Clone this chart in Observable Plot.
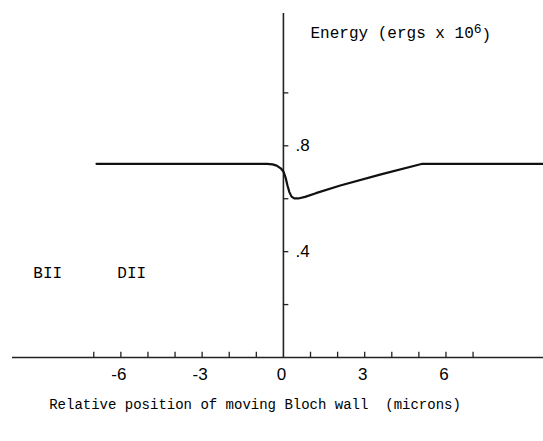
<!DOCTYPE html>
<html>
<head>
<meta charset="utf-8">
<script src="https://cdn.jsdelivr.net/npm/d3@7"></script>
<script src="https://cdn.jsdelivr.net/npm/@observablehq/plot@0.6"></script>
<style>
  html, body { margin: 0; padding: 0; background: #fff; }
  #chart svg { display: block; }
</style>
</head>
<body>
<div id="chart"></div>
<script>
// Curve: energy vs relative position of moving Bloch wall
const positions = [-6.9, -3, -0.6, -0.4, -0.25, -0.1, 0, 0.08, 0.15, 0.22, 0.3, 0.4, 0.55, 0.8, 1.2, 2.1, 3.6, 5.13, 7, 9.6];
const energies  = [0.732, 0.732, 0.732, 0.73, 0.725, 0.715, 0.703, 0.68, 0.65, 0.625, 0.608, 0.601, 0.601, 0.607, 0.621, 0.65, 0.692, 0.732, 0.732, 0.732];

// Axis ticks and labels
const xTicks = [-7, -6, -5, -4, -3, -2, -1, 1, 2, 3, 4, 5, 6, 7];
const xLabels = [-6, -3, 0, 3, 6];
const yTicks = [0.2, 0.4, 0.6, 0.8, 1.0];
const yLabels = [0.4, 0.8];

// Region labels
const regionNames = ["BII", "DII"];
const regionPos = [-8.7, -5.6];

const yTitle = "Energy (ergs x 10";
const yTitleExp = "6";
const xTitle = "Relative position of moving Bloch wall  (microns)";

const data = positions.map((p, i) => ({x: p, y: energies[i]}));
const mono = "'Liberation Mono', 'DejaVu Sans Mono', monospace";
const sans = "'Liberation Sans', Arial, sans-serif";

const plot = Plot.plot({
  width: 543,
  height: 441,
  marginLeft: 12,
  marginRight: 0,
  marginTop: 13,
  marginBottom: 84,
  x: {domain: [-10, 9.6], axis: null},
  y: {domain: [0, 1.3], axis: null},
  style: {background: "#fff", color: "#000"},
  marks: [
    Plot.ruleY([0], {stroke: "#222", strokeWidth: 1.6}),
    Plot.ruleX([0], {y1: 0, y2: 1.3, stroke: "#222", strokeWidth: 1.6}),
    Plot.ruleX(xTicks, {x: d => d, y1: 0, y2: 0.02, stroke: "#222", strokeWidth: 1.3}),
    Plot.ruleY(yTicks, {y: d => d, x1: 0, x2: 0.2, stroke: "#222", strokeWidth: 1.3}),
    Plot.text(xLabels, {x: d => d, y: 0, dy: 17, dx: -2, text: d => String(d), fontSize: 17, fontFamily: sans, fill: "#000"}),
    Plot.text(yLabels, {x: 0, y: d => d, dx: 12, textAnchor: "start", text: d => d3.format(".1f")(d).replace(/^0/, ""), fontSize: 17, fontFamily: sans, fill: "#000"}),
    Plot.line(data, {x: "x", y: "y", stroke: "#111", strokeWidth: 2.2, curve: "linear", strokeLinejoin: "round"}),
    Plot.text(regionNames, {x: (d, i) => regionPos[i], y: 0.318, text: d => d, fontSize: 16, fontFamily: mono, fill: "#000"}),
    Plot.text([yTitle], {x: 1.0, y: 1.225, textAnchor: "start", text: d => d, fontSize: 16, fontFamily: mono, fill: "#000"}),
    Plot.text([xTitle], {frameAnchor: "bottom", dy: 51, dx: -23, text: d => d, fontSize: 14, fontFamily: mono, fill: "#000"})
  ]
});

// add superscript exponent and closing parenthesis to the y title
d3.select(plot).selectAll("text").each(function() {
  if (this.textContent === yTitle) {
    const t = d3.select(this);
    t.append("tspan").attr("dy", "-0.45em").attr("font-size", 13).text(yTitleExp);
    t.append("tspan").attr("dy", "0.45em").text(")");
  }
});

document.getElementById("chart").appendChild(plot);
</script>
</body>
</html>
